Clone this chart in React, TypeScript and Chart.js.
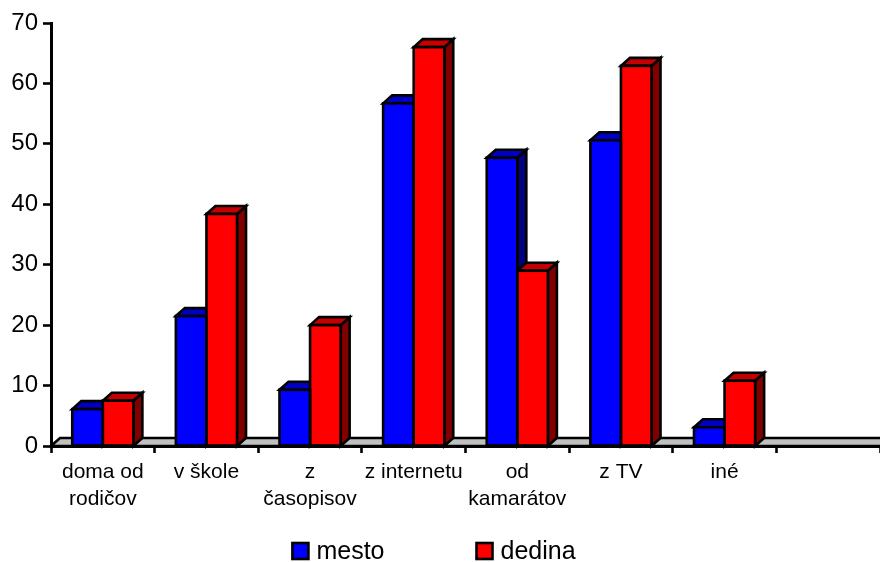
import React, { useEffect, useRef } from 'react';
import { Chart, registerables } from 'chart.js';

Chart.register(...registerables);

const FONT = '"Liberation Sans", Arial, Helvetica, sans-serif';

// ---- data ----
const categories: string[][] = [
  ['doma od', 'rodičov'],
  ['v škole'],
  ['z', 'časopisov'],
  ['z internetu'],
  ['od', 'kamarátov'],
  ['z TV'],
  ['iné'],
];
const emptySlot: string[] = [''];
const seriesNames = ['mesto', 'dedina'];
const mesto = [6.1, 21.5, 9.3, 56.7, 47.7, 50.6, 3.1];
const dedina = [7.5, 38.4, 20.0, 66.0, 29.0, 62.9, 10.8];
const yMin = 0;
const yMax = 70;
const yStep = 10;

// ---- styles ----
const frontColors = ['#0000ff', '#ff0000'];
const topColors = ['#0000c4', '#c40000'];
const sideColors = ['#000080', '#800000'];
const DX = 9;
const DY = 8;
const STROKE = 2.6;

const depthPlugin = {
  id: 'depth3d',
  beforeDatasetsDraw(chart: any) {
    const { ctx, chartArea } = chart;
    const base = chart.scales.y.getPixelForValue(0);
    const poly = (pts: number[][], fill: string) => {
      ctx.beginPath();
      ctx.moveTo(pts[0][0], pts[0][1]);
      for (let k = 1; k < pts.length; k++) ctx.lineTo(pts[k][0], pts[k][1]);
      ctx.closePath();
      ctx.fillStyle = fill;
      ctx.fill();
      ctx.stroke();
    };
    ctx.save();
    ctx.lineWidth = STROKE;
    ctx.strokeStyle = '#000';
    ctx.lineJoin = 'miter';
    // floor
    poly(
      [
        [chartArea.left, base],
        [chartArea.left + DX, base - DY],
        [chartArea.right + DX + 10, base - DY],
        [chartArea.right + 10, base],
      ],
      '#c0c0c0'
    );
    const n = chart.data.labels.length;
    for (let i = 0; i < n; i++) {
      for (let d = 0; d < chart.data.datasets.length; d++) {
        const v = chart.data.datasets[d].data[i];
        if (v == null) continue;
        const el = chart.getDatasetMeta(d).data[i];
        if (!el) continue;
        const { x, y, width } = el.getProps(['x', 'y', 'width'], true);
        const x0 = x - width / 2;
        const x1 = x + width / 2;
        poly([[x1, y], [x1 + DX, y - DY], [x1 + DX, base - DY], [x1, base]], sideColors[d]);
        poly([[x0, y], [x0 + DX, y - DY], [x1 + DX, y - DY], [x1, y]], topColors[d]);
      }
    }
    ctx.restore();
  },
  afterDatasetsDraw(chart: any) {
    // crisp outline around front faces (centered on edges like the reference)
    const { ctx } = chart;
    ctx.save();
    ctx.lineWidth = STROKE;
    ctx.strokeStyle = '#000';
    for (let d = 0; d < chart.data.datasets.length; d++) {
      const meta = chart.getDatasetMeta(d);
      meta.data.forEach((el: any, i: number) => {
        if (chart.data.datasets[d].data[i] == null) return;
        const { x, y, base, width } = el.getProps(['x', 'y', 'base', 'width'], true);
        ctx.strokeRect(x - width / 2, y, width, base - y);
      });
    }
    ctx.restore();
  },
};

const legendPlugin = {
  id: 'customLegend',
  afterDraw(chart: any) {
    const { ctx } = chart;
    ctx.save();
    ctx.font = `25px ${FONT}`;
    ctx.textBaseline = 'alphabetic';
    ctx.textAlign = 'left';
    const box = 16;
    const gapText = 8;
    const gapItems = 92;
    const widths = seriesNames.map((s) => ctx.measureText(s).width);
    const total = widths.reduce((a, w) => a + box + gapText + w, 0) + gapItems * (seriesNames.length - 1);
    let x = chart.width / 2 - 6 - total / 2;
    const baseY = 559;
    seriesNames.forEach((s, i) => {
      ctx.fillStyle = frontColors[i];
      ctx.fillRect(x, baseY - 16, box, box);
      ctx.lineWidth = STROKE;
      ctx.strokeStyle = '#000';
      ctx.strokeRect(x, baseY - 16, box, box);
      ctx.fillStyle = '#000';
      ctx.fillText(s, x + box + gapText, baseY);
      x += box + gapText + widths[i] + gapItems;
    });
    ctx.restore();
  },
};

export default function App() {
  const ref = useRef<HTMLCanvasElement | null>(null);
  useEffect(() => {
    if (!ref.current) return;
    const chart = new Chart(ref.current, {
      type: 'bar',
      data: {
        labels: [...categories, emptySlot],
        datasets: [
          {
            label: seriesNames[0],
            data: mesto,
            backgroundColor: frontColors[0],
            borderWidth: 0,
          },
          {
            label: seriesNames[1],
            data: dedina,
            backgroundColor: frontColors[1],
            borderWidth: 0,
          },
        ],
      },
      options: {
        animation: false,
        responsive: false,
        maintainAspectRatio: false,
        devicePixelRatio: 1,
        layout: { padding: { top: 23, left: 0, right: 0, bottom: 0 } },
        datasets: { bar: { categoryPercentage: 0.59, barPercentage: 1 } },
        plugins: { legend: { display: false }, tooltip: { enabled: false } },
        scales: {
          x: {
            type: 'category',
            offset: true,
            grid: {
              offset: true,
              drawOnChartArea: false,
              drawTicks: true,
              tickLength: 7,
              tickWidth: 2.6,
              tickColor: '#000',
            },
            border: { display: true, color: '#000', width: 3 },
            ticks: {
              color: '#000',
              font: { size: 21, family: FONT, lineHeight: 1.29 },
              padding: 6,
              maxRotation: 0,
              minRotation: 0,
              autoSkip: false,
            },
            afterFit: (s: any) => {
              s.height = 116;
            },
          },
          y: {
            min: yMin,
            max: yMax,
            ticks: {
              stepSize: yStep,
              color: '#000',
              font: { size: 24, family: FONT },
              padding: 5,
            },
            grid: {
              drawOnChartArea: false,
              drawTicks: true,
              tickLength: 8,
              tickWidth: 2.6,
              tickColor: '#000',
            },
            border: { display: true, color: '#000', width: 3 },
            afterFit: (s: any) => {
              s.width = 51;
            },
          },
        },
      } as any,
      plugins: [depthPlugin, legendPlugin],
    });
    return () => chart.destroy();
  }, []);
  return (
    <div style={{ position: 'absolute', left: 0, top: 0, width: 880, height: 562, background: '#fff' }}>
      <canvas ref={ref} width={880} height={562} style={{ display: 'block' }} />
    </div>
  );
}
